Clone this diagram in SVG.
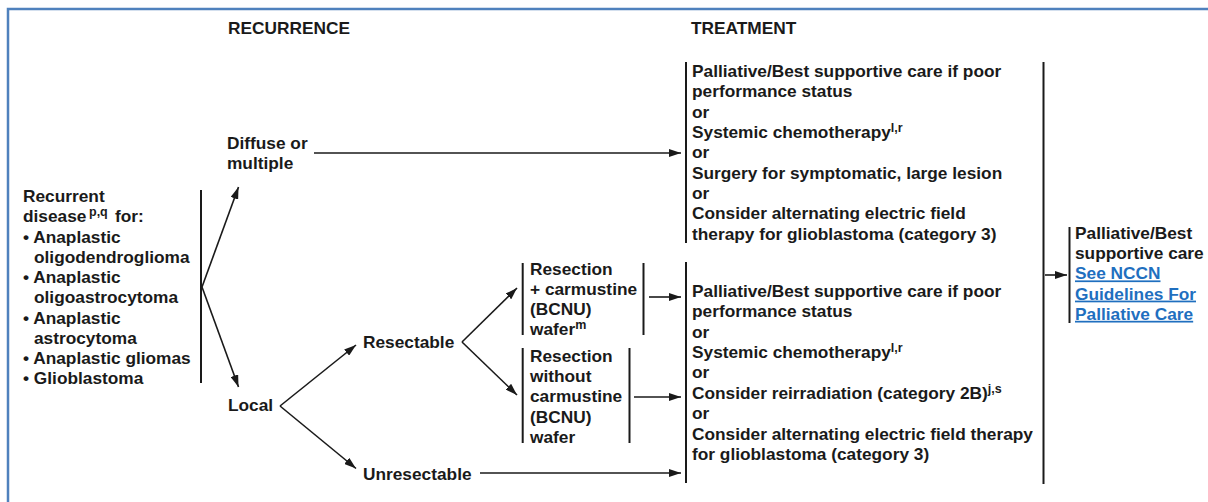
<svg xmlns="http://www.w3.org/2000/svg" width="1208" height="502" viewBox="0 0 1208 502">
<style>
text{font-family:"Liberation Sans",Arial,sans-serif;font-weight:bold;font-size:17.3px;fill:#1a1a1a}
.sup{font-size:12.5px}
.link{fill:#1f6fbf;text-decoration:underline}
.bar{stroke:#1a1a1a;stroke-width:2;fill:none}
.arr{stroke:#1a1a1a;stroke-width:1.6;fill:none;marker-end:url(#ah)}
.frame{stroke:#4f81bd;stroke-width:2.5;fill:none}
</style>
<defs>
<marker id="ah" viewBox="0 0 12 8" refX="12" refY="4" markerWidth="12" markerHeight="8" orient="auto" markerUnits="userSpaceOnUse">
<path d="M0,0 L12,4 L0,8 z" fill="#1a1a1a"/>
</marker>
</defs>
<rect width="1208" height="502" fill="#fff"/>
<path class="frame" d="M8,502 V9 H1208"/>

<g id="headers">
<text x="228" y="34">RECURRENCE</text>
<text x="691" y="34">TREATMENT</text>
</g>

<g id="recurrent">
<text x="23" y="202">Recurrent</text>
<text x="23" y="222.3">disease<tspan class="sup" x="89" dy="-6">p,q</tspan><tspan x="115" dy="6">for:</tspan></text>
<text x="23" y="242.5">• Anaplastic</text>
<text x="34" y="262.8">oligodendroglioma</text>
<text x="23" y="283">• Anaplastic</text>
<text x="34" y="303.3">oligoastrocytoma</text>
<text x="23" y="323.5">• Anaplastic</text>
<text x="34" y="343.8">astrocytoma</text>
<text x="23" y="364">• Anaplastic gliomas</text>
<text x="23" y="384.3">• Glioblastoma</text>
</g>

<g id="diffuse">
<text x="227" y="149">Diffuse or</text>
<text x="227" y="169">multiple</text>
</g>

<g id="local"><text x="228" y="411">Local</text></g>
<g id="resectable"><text x="363" y="347.5">Resectable</text></g>
<g id="unresectable"><text x="363" y="479.5">Unresectable</text></g>

<g id="resection-bcnu">
<text x="530" y="274.5">Resection</text>
<text x="530" y="294.8">+ carmustine</text>
<text x="530" y="315.1">(BCNU)</text>
<text x="530" y="335.4">wafer<tspan class="sup" dy="-6">m</tspan></text>
</g>

<g id="resection-without">
<text x="530" y="362">Resection</text>
<text x="530" y="382.2">without</text>
<text x="530" y="402.4">carmustine</text>
<text x="530" y="422.6">(BCNU)</text>
<text x="530" y="442.8">wafer</text>
</g>

<g id="treatment-diffuse">
<text x="692" y="77">Palliative/Best supportive care if poor</text>
<text x="692" y="97.3">performance status</text>
<text x="692" y="117.7">or</text>
<text x="692" y="138">Systemic chemotherapy<tspan class="sup" dy="-6">l,r</tspan></text>
<text x="692" y="158.4">or</text>
<text x="692" y="178.7">Surgery for symptomatic, large lesion</text>
<text x="692" y="199.1">or</text>
<text x="692" y="219.4">Consider alternating electric field</text>
<text x="692" y="239.8">therapy for glioblastoma (category 3)</text>
</g>

<g id="treatment-local">
<text x="692" y="297">Palliative/Best supportive care if poor</text>
<text x="692" y="317.4">performance status</text>
<text x="692" y="337.7">or</text>
<text x="692" y="358">Systemic chemotherapy<tspan class="sup" dy="-6">l,r</tspan></text>
<text x="692" y="378.4">or</text>
<text x="692" y="398.8">Consider reirradiation (category 2B)<tspan class="sup" dy="-6">j,s</tspan></text>
<text x="692" y="419.1">or</text>
<text x="692" y="439.5">Consider alternating electric field therapy</text>
<text x="692" y="459.8">for glioblastoma (category 3)</text>
</g>

<g id="palliative">
<text x="1075" y="239">Palliative/Best</text>
<text x="1075" y="259.2">supportive care</text>
<text x="1075" y="279.4" class="link">See NCCN</text>
<text x="1075" y="299.6" class="link">Guidelines For</text>
<text x="1075" y="319.8" class="link">Palliative Care</text>
</g>

<g id="connectors">
<line class="bar" x1="201" y1="190" x2="201" y2="383"/>
<line class="arr" x1="202" y1="287" x2="238.5" y2="187"/>
<line class="arr" x1="202" y1="287" x2="238.5" y2="387"/>
<line class="arr" x1="314" y1="153" x2="681" y2="153"/>
<line class="arr" x1="280" y1="406" x2="356" y2="345"/>
<line class="arr" x1="280" y1="406" x2="356" y2="468.5"/>
<line class="arr" x1="462" y1="342" x2="517" y2="288"/>
<line class="arr" x1="462" y1="342" x2="517" y2="395"/>
<line class="arr" x1="480" y1="473" x2="681" y2="473"/>
<line class="bar" x1="522.7" y1="263" x2="522.7" y2="335"/>
<line class="bar" x1="643.5" y1="263" x2="643.5" y2="335"/>
<line class="bar" x1="522.7" y1="348" x2="522.7" y2="443"/>
<line class="bar" x1="629.5" y1="348" x2="629.5" y2="443"/>
<line class="arr" x1="649" y1="297" x2="681" y2="297"/>
<line class="arr" x1="634" y1="397" x2="681" y2="397"/>
<line class="bar" x1="686" y1="62" x2="686" y2="243"/>
<line class="bar" x1="686" y1="262" x2="686" y2="483"/>
<line class="bar" x1="1043.5" y1="62" x2="1043.5" y2="484"/>
<line class="arr" x1="1045" y1="275" x2="1067" y2="275"/>
<line class="bar" x1="1069.5" y1="227" x2="1069.5" y2="323"/>
</g>
</svg>
